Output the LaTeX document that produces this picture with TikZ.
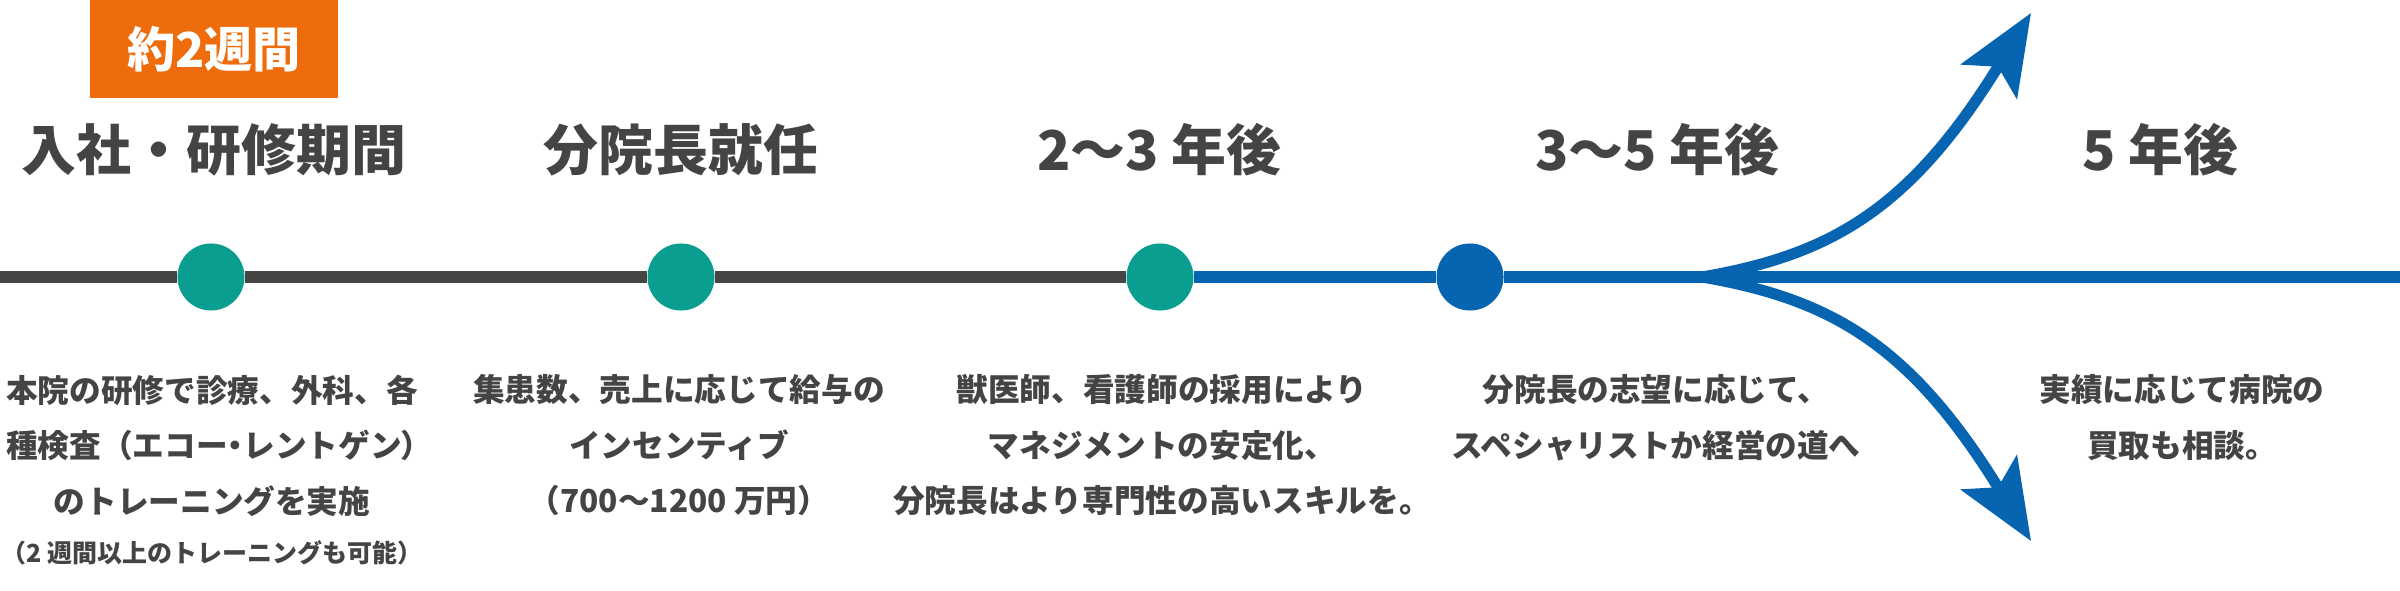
\documentclass[tikz,border=0pt]{standalone}
\usepackage{fontspec}
\setmainfont{Noto Sans CJK JP}
\usetikzlibrary{arrows.meta,positioning}
\definecolor{linegray}{HTML}{454545}
\definecolor{txtgray}{HTML}{444444}
\definecolor{dotteal}{HTML}{0A9E90}
\definecolor{lineblue}{HTML}{0664B1}
\definecolor{boxorange}{HTML}{EE6C0B}
\newcommand{\narrow}[1]{{\addfontfeature{RawFeature=+palt}#1}}
\tikzset{
  dot/.style={circle,inner sep=0pt,minimum size=0.67cm},
  grayline/.style={draw=linegray,line width=0.11cm},
  blueline/.style={draw=lineblue,line width=0.11cm},
  bluetip/.style={-{Stealth[length=0.8cm,width=0.65cm,inset=0.17cm]}},
  weekbox/.style={fill=boxorange,text=white,inner sep=0pt,minimum width=2.47cm,
    minimum height=0.98cm,font=\fontsize{13.7}{16}\selectfont\bfseries},
  title/.style={text=txtgray,inner sep=0pt,font=\fontsize{15.6}{18}\selectfont\bfseries},
  desc/.style={text=txtgray,inner sep=0pt,align=center,anchor=north,
    font=\fontsize{9}{15.8}\selectfont\bfseries},
  note/.style={text=txtgray,inner sep=0pt,font=\fontsize{7.1}{9}\selectfont\bfseries}
}
\begin{document}
\begin{tikzpicture}[x=0.01cm,y=-0.01cm]
%
\useasboundingbox (0,0) rectangle (2400,591);
%
\node[weekbox] (w) at (214,49) {約2週間};
%
\node[title] (t1) at (214,150) {入社・研修期間};
\node[title] (t2) at (681,150) {分院長就任};
\node[title] (t3) at (1159,150) {2〜3 年後};
\node[title] (t4) at (1657,150) {3〜5 年後};
\node[title] (t5) at (2160,150) {5 年後};
%
\node[dot,fill=dotteal] (c1) at (211,277) {};
\node[dot,fill=dotteal] (c2) at (681,277) {};
\node[dot,fill=dotteal] (c3) at (1160,277) {};
\node[dot,fill=lineblue] (c4) at (1470,277) {};
%
\coordinate (start) at (0,277);
\coordinate (branch) at (1702,277);
\coordinate (end) at (2400,277);
\coordinate (up) at (2031,13);
\coordinate (down) at (2031,541);
%
\draw[grayline] (start) -- (c1) -- (c2) -- (c3);
\draw[blueline] (c3) -- (c4) -- (branch) -- (end);
\draw[blueline,bluetip] (branch) .. controls (1830,255) and (1910,210) .. (up);
\draw[blueline,bluetip] (branch) .. controls (1830,299) and (1910,344) .. (down);
%
\node[desc] (d1) at (212,374) {本院の研修で診療、外科、各\\種検査（エコー\narrow{・}レントゲン\narrow{）}\\のトレーニングを実施};
\node[note] (n1) at (212,553) {（2 週間以上のトレーニングも可能）};
\node[desc] (d2) at (679,374) {集患数、売上に応じて給与の\\インセンティブ\\（700〜1200 万円）};
\node[desc] (d3) at (1162,374) {獣医師、看護師の採用により\\マネジメントの安定化、\\分院長はより専門性の高いスキルを。};
\node[desc] (d4) at (1656,374) {分院長の志望に応じて、\\スペシャリストか経営の道へ};
\node[desc] (d5) at (2182,374) {実績に応じて病院の\\買取も相談。};
%
\end{tikzpicture}
\end{document}
